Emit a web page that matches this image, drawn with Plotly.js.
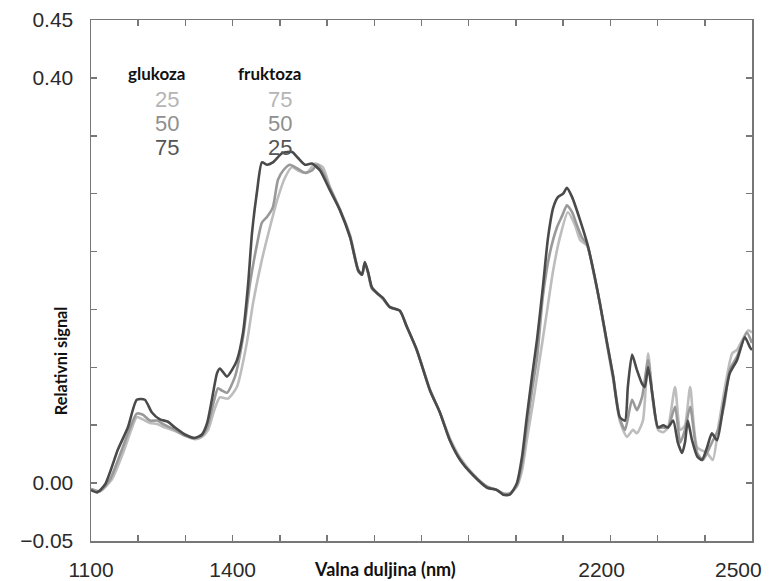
<!DOCTYPE html>
<html>
<head>
<meta charset="utf-8">
<script src="https://cdn.plot.ly/plotly-3.0.1.min.js"></script>
<style>html,body{margin:0;padding:0;background:#fff;}#chart{width:773px;height:581px;}</style>
</head>
<body>
<div id="chart"></div>
<script>
// glukoza 25 / fruktoza 75 (light)
const wl25 = [1100,1119,1144,1166,1187,1197,1210,1225,1240,1257,1278,1299,1320,1335,1348,1361,1373,1390,1409,1430,1443,1462,1479,1494,1511,1526,1538,1557,1574,1591,1606,1627,1649,1666,1674,1680,1687,1695,1706,1718,1733,1754,1769,1790,1818,1839,1860,1882,1909,1939,1960,1973,1987,2002,2013,2023,2036,2047,2066,2079,2093,2110,2125,2136,2151,2167,2178,2193,2206,2220,2235,2248,2256,2269,2280,2290,2301,2312,2322,2337,2348,2358,2369,2384,2405,2417,2430,2458,2468,2492,2500];
const sig25 = [-0.005,-0.007,0.003,0.024,0.048,0.057,0.055,0.052,0.051,0.048,0.045,0.041,0.038,0.040,0.046,0.063,0.074,0.073,0.083,0.121,0.155,0.193,0.221,0.244,0.264,0.273,0.270,0.268,0.276,0.273,0.256,0.237,0.214,0.184,0.180,0.190,0.181,0.168,0.164,0.159,0.152,0.149,0.135,0.115,0.081,0.061,0.039,0.022,0.008,-0.003,-0.006,-0.009,-0.009,-0.003,0.011,0.037,0.069,0.098,0.149,0.184,0.212,0.234,0.223,0.210,0.205,0.177,0.155,0.119,0.089,0.054,0.040,0.046,0.043,0.054,0.112,0.072,0.046,0.044,0.048,0.083,0.046,0.050,0.083,0.031,0.026,0.020,0.052,0.112,0.115,0.132,0.130];

// glukoza 50 / fruktoza 50 (medium)
const wl50 = [1100,1119,1140,1161,1183,1197,1210,1225,1240,1257,1278,1299,1320,1335,1346,1358,1369,1377,1388,1405,1422,1437,1452,1462,1473,1485,1496,1507,1521,1536,1553,1568,1579,1589,1606,1627,1649,1666,1674,1680,1687,1695,1706,1718,1733,1754,1769,1790,1818,1839,1860,1882,1909,1939,1960,1973,1987,2002,2013,2023,2034,2045,2057,2072,2087,2098,2108,2119,2129,2140,2151,2167,2178,2193,2206,2220,2231,2246,2256,2267,2280,2290,2301,2312,2322,2337,2348,2358,2369,2384,2396,2415,2428,2441,2453,2468,2489,2500];
const sig50 = [-0.005,-0.007,0.003,0.024,0.048,0.060,0.059,0.054,0.054,0.050,0.046,0.041,0.039,0.041,0.048,0.067,0.082,0.080,0.078,0.092,0.126,0.173,0.207,0.225,0.230,0.238,0.262,0.270,0.275,0.272,0.268,0.270,0.275,0.270,0.255,0.236,0.212,0.183,0.180,0.190,0.182,0.168,0.164,0.160,0.152,0.149,0.135,0.115,0.080,0.061,0.037,0.020,0.007,-0.003,-0.006,-0.009,-0.009,-0.002,0.017,0.048,0.080,0.109,0.161,0.199,0.221,0.231,0.240,0.234,0.223,0.212,0.206,0.177,0.155,0.121,0.092,0.056,0.046,0.072,0.063,0.074,0.106,0.072,0.048,0.048,0.048,0.066,0.035,0.046,0.066,0.026,0.020,0.035,0.046,0.067,0.098,0.109,0.130,0.121];

// glukoza 75 / fruktoza 25 (dark)
const wl75 = [1100,1113,1130,1157,1178,1197,1214,1229,1246,1263,1278,1299,1320,1335,1346,1356,1367,1373,1388,1399,1409,1422,1433,1441,1452,1462,1473,1485,1505,1526,1538,1553,1568,1585,1606,1627,1649,1666,1674,1680,1687,1695,1706,1718,1733,1754,1769,1790,1818,1839,1860,1882,1909,1939,1960,1973,1987,2002,2013,2023,2034,2045,2057,2068,2079,2089,2100,2108,2119,2136,2151,2167,2178,2193,2206,2220,2231,2237,2246,2256,2267,2273,2280,2290,2301,2312,2322,2333,2343,2352,2358,2364,2373,2384,2394,2405,2415,2426,2439,2453,2468,2485,2496,2500];
const sig75 = [-0.006,-0.008,-0.001,0.029,0.048,0.072,0.072,0.061,0.055,0.053,0.048,0.042,0.039,0.042,0.052,0.072,0.095,0.099,0.092,0.098,0.106,0.130,0.173,0.216,0.253,0.277,0.275,0.277,0.285,0.286,0.281,0.275,0.276,0.270,0.253,0.236,0.212,0.184,0.180,0.191,0.182,0.169,0.164,0.160,0.152,0.149,0.135,0.115,0.080,0.061,0.037,0.020,0.007,-0.004,-0.006,-0.010,-0.010,0.000,0.023,0.057,0.092,0.125,0.169,0.212,0.238,0.247,0.250,0.255,0.247,0.227,0.207,0.178,0.155,0.121,0.092,0.057,0.054,0.083,0.111,0.098,0.086,0.083,0.100,0.074,0.048,0.050,0.048,0.054,0.035,0.026,0.035,0.054,0.037,0.023,0.020,0.031,0.043,0.037,0.066,0.095,0.106,0.126,0.117,0.115];

const xTickVals = [1100,1200,1300,1400,1500,1600,1700,1800,1900,2000,2100,2200,2300,2400,2500];
const xTickText = ['1100','','','1400','','','','','','','','2200\u00a0\u00a0\u00a0','','',''];
const xEdgeTickVal = 2500;
const xEdgeTickText = '2500';
const yTickVals = [-0.05,0,0.05,0.10,0.15,0.20,0.25,0.30,0.35,0.40];
const yTickText = ['\u22120.05','0.00','','','','','','','0.40','0.45'];

const legendHeaders = ['glukoza','fruktoza'];
const glukozaLabels = ['25','50','75'];
const fruktozaLabels = ['75','50','25'];
const xTitle = 'Valna duljina (nm)';
const yTitle = 'Relativni signal';

const colors = ['#bdbdbd','#999999','#4a4a4a'];
const numColors = ['#b5b5b5','#8f8f8f','#555555'];

const traces = [
  {x: wl25, y: sig25, mode:'lines', line:{color:colors[0], width:2.6, shape:'spline', smoothing:0.6}},
  {x: wl50, y: sig50, mode:'lines', line:{color:colors[1], width:2.6, shape:'spline', smoothing:0.6}},
  {x: wl75, y: sig75, mode:'lines', line:{color:colors[2], width:2.6, shape:'spline', smoothing:0.6}}
];

const tickFont = {family:'Liberation Sans, Arial, sans-serif', size:21, color:'#2a2a2a'};
const boldFont = {family:'Lato, sans-serif', size:17, color:'#111'};

const annotations = [];
const colX = [0.1, 0.27];
const numX = [0.115, 0.286];
const rowY = [0.848, 0.802, 0.756];
legendHeaders.forEach((h,i)=>annotations.push({xref:'paper',yref:'paper',x:colX[i],y:0.898,text:'<b>'+h+'</b>',showarrow:false,font:boldFont,xanchor:'center',yanchor:'middle'}));
glukozaLabels.forEach((t,i)=>annotations.push({xref:'paper',yref:'paper',x:numX[0],y:rowY[i],text:t,showarrow:false,font:{family:'Liberation Sans, Arial, sans-serif',size:22,color:numColors[i]},xanchor:'center',yanchor:'middle'}));
fruktozaLabels.forEach((t,i)=>annotations.push({xref:'paper',yref:'paper',x:numX[1],y:rowY[i],text:t,showarrow:false,font:{family:'Liberation Sans, Arial, sans-serif',size:22,color:numColors[i]},xanchor:'center',yanchor:'middle'}));
annotations.push({xref:'x',yref:'paper',x:xEdgeTickVal,y:-0.054,text:xEdgeTickText,showarrow:false,font:tickFont,xanchor:'center',yanchor:'middle',xshift:-14});
annotations.push({xref:'paper',yref:'paper',x:0.445,y:-0.054,text:'<b>'+xTitle+'</b>',showarrow:false,font:{family:'Lato, sans-serif',size:18,color:'#111'},xanchor:'center',yanchor:'middle'});
annotations.push({xref:'paper',yref:'paper',x:-0.047,y:0.347,text:'<b>'+yTitle+'</b>',showarrow:false,textangle:-90,font:{family:'Lato, sans-serif',size:16.3,color:'#111'},xanchor:'center',yanchor:'middle'});

const axisCommon = {
  showgrid:false, zeroline:false, showline:true, linecolor:'#777', linewidth:1.5,
  mirror:'ticks', ticks:'inside', ticklen:6, tickwidth:1.5, tickcolor:'#777',
  tickfont:tickFont, tickmode:'array', ticklabeloverflow:'allow'
};

const layout = {
  width:773, height:581,
  margin:{l:91, r:21, t:20, b:40, pad:0},
  paper_bgcolor:'#fff', plot_bgcolor:'#fff',
  showlegend:false,
  xaxis: Object.assign({}, axisCommon, {range:[1100,2500], tickvals:xTickVals, ticktext:xTickText, ticklabelstandoff:9}),
  yaxis: Object.assign({}, axisCommon, {range:[-0.05,0.40], tickvals:yTickVals, ticktext:yTickText, ticklabelstandoff:12}),
  annotations: annotations
};

Plotly.newPlot('chart', traces, layout, {staticPlot:true, displayModeBar:false});
</script>
</body>
</html>
